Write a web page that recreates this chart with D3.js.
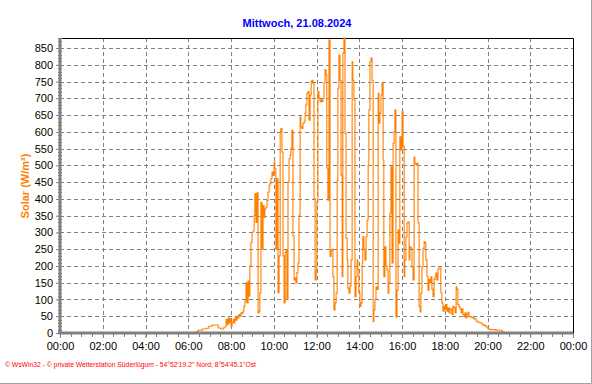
<!DOCTYPE html>
<html>
<head>
<meta charset="utf-8">
<script src="https://cdn.jsdelivr.net/npm/d3@7"></script>
<style>
  body { margin: 0; background: #fff; }
  svg { display: block; font-family: "Liberation Sans", Arial, sans-serif; }
</style>
</head>
<body>
<div id="chart"></div>
<script>
const title = "Mittwoch, 21.08.2024"
const yLabel = "Solar (W/m²)"
const footer = "© WsWin32  -  © private Wetterstation Süderlügum  -  54°52'19.2\" Nord; 8°54'45.1\"Ost"
const xTickLabels = ["00:00","02:00","04:00","06:00","08:00","10:00","12:00","14:00","16:00","18:00","20:00","22:00","00:00"]
const yTicks = [0,50,100,150,200,250,300,350,400,450,500,550,600,650,700,750,800,850]

// time of reading (HH:MM) and solar radiation in W/m²
const times = [
  "00:00","06:15","06:19","06:27","06:39","06:50","06:58","07:07","07:15","07:24","07:32","07:40",
  "07:46","07:49","07:52","07:54","07:57","08:00","08:03","08:06","08:08","08:11","08:14","08:17",
  "08:20","08:22","08:25","08:28","08:31","08:34","08:36","08:39","08:42","08:45","08:48","08:50",
  "08:53","08:56","08:59","09:02","09:05","09:07","09:10","09:13","09:16","09:19","09:21","09:24",
  "09:27","09:30","09:33","09:35","09:38","09:41","09:44","09:47","09:49","09:52","09:55","09:58",
  "10:01","10:03","10:06","10:09","10:12","10:15","10:18","10:20","10:23","10:26","10:29","10:32",
  "10:34","10:37","10:40","10:43","10:46","10:48","10:51","10:54","10:57","11:00","11:02","11:05",
  "11:08","11:11","11:14","11:16","11:19","11:22","11:25","11:28","11:30","11:33","11:36","11:39",
  "11:42","11:45","11:47","11:50","11:53","11:56","11:59","12:01","12:04","12:07","12:10","12:13",
  "12:15","12:18","12:21","12:24","12:27","12:29","12:32","12:35","12:38","12:41","12:43","12:46",
  "12:49","12:52","12:55","12:58","13:00","13:03","13:06","13:09","13:12","13:14","13:17","13:20",
  "13:23","13:26","13:28","13:31","13:34","13:37","13:40","13:42","13:45","13:48","13:51","13:54",
  "13:56","13:59","14:02","14:05","14:08","14:10","14:13","14:16","14:19","14:22","14:25","14:27",
  "14:30","14:33","14:36","14:39","14:41","14:44","14:47","14:50","14:53","14:55","14:58","15:01",
  "15:04","15:07","15:09","15:12","15:15","15:18","15:21","15:23","15:26","15:29","15:32","15:35",
  "15:38","15:40","15:43","15:46","15:49","15:52","15:54","15:57","16:00","16:03","16:06","16:08",
  "16:11","16:14","16:17","16:20","16:22","16:25","16:28","16:31","16:34","16:36","16:39","16:42",
  "16:45","16:48","16:51","16:53","16:56","16:59","17:02","17:05","17:07","17:10","17:13","17:16",
  "17:19","17:21","17:24","17:27","17:30","17:33","17:35","17:38","17:41","17:44","17:47","17:49",
  "17:52","17:55","17:58","18:01","18:03","18:06","18:09","18:12","18:15","18:20","18:23","18:26",
  "18:29","18:32","18:34","18:37","18:40","18:43","18:46","18:48","18:51","18:54","18:57","19:00",
  "19:02","19:05","19:08","19:11","19:16","19:22","19:28","19:33","19:39","19:45","19:50","19:56",
  "20:01","20:07","20:13","20:24","20:35","20:41","20:44","24:00"
]
const solar = [
  0,0,3,8,12,14,20,24,24,15,12,18,
  40,25,45,30,42,20,30,40,30,45,38,50,
  45,55,50,60,58,65,80,95,150,90,155,110,
  200,270,300,305,350,415,330,418,60,65,120,390,
  250,380,345,370,375,395,420,440,445,460,480,470,
  510,490,250,460,120,230,600,610,540,230,90,240,
  245,100,450,520,530,551,605,290,158,165,149,180,
  209,352,645,615,610,625,630,656,680,715,720,635,
  710,750,754,745,400,158,188,392,720,700,690,695,
  690,700,745,785,770,492,396,874,228,247,250,168,
  69,90,119,456,730,829,754,471,168,835,880,596,
  283,218,134,119,140,218,809,754,695,108,168,218,
  190,119,79,90,209,287,250,218,287,337,500,665,
  809,820,754,34,69,100,138,130,715,626,656,710,
  745,516,168,257,200,188,119,150,357,496,209,566,
  600,665,48,128,307,268,585,546,660,556,168,218,
  287,328,331,218,257,253,197,158,525,506,501,506,
  328,79,63,119,197,253,272,268,218,168,128,160,
  150,168,130,108,160,168,179,158,190,198,198,120,
  89,65,80,70,85,65,75,60,72,55,80,75,
  60,138,130,85,78,70,60,72,55,48,60,45,
  55,62,50,48,45,42,35,32,30,25,22,18,
  12,10,10,8,8,4,0,0
]

const width = 592, height = 384
const margin = { top: 38, right: 19, bottom: 51, left: 60 }
const iw = width - margin.left - margin.right
const ih = height - margin.top - margin.bottom

const toMin = t => { const [h, m] = t.split(":").map(Number); return h * 60 + m }
const data = times.map((t, i) => ({ t: toMin(t), v: solar[i] }))

const x = d3.scaleLinear().domain([0, 1440]).range([0, iw])
const y = d3.scaleLinear().domain([0, 880]).range([ih, 0])

const svg = d3.select("#chart").append("svg")
    .attr("width", width)
    .attr("height", height)

// outer frame (right/bottom edge)
svg.append("path")
    .attr("d", `M${width - 0.5},0V${height - 0.5}H0`)
    .attr("fill", "none")
    .attr("stroke", "#a0a0a0")

svg.append("text")
    .attr("x", 297).attr("y", 27)
    .attr("text-anchor", "middle")
    .attr("fill", "#0000ff")
    .attr("font-weight", "bold")
    .attr("font-size", 11)
    .text(title)

const g = svg.append("g").attr("transform", `translate(${margin.left},${margin.top})`)

// grid
const xMajor = d3.range(0, 1441, 120)
g.append("g").selectAll("line").data(xMajor.slice(1, -1)).join("line")
    .attr("x1", d => Math.round(x(d)) + 0.5).attr("x2", d => Math.round(x(d)) + 0.5)
    .attr("y1", 0).attr("y2", ih)
    .attr("stroke", "#808080").attr("stroke-dasharray", "4,3")
g.append("g").selectAll("line").data(yTicks.slice(1)).join("line")
    .attr("x1", 0).attr("x2", iw)
    .attr("y1", d => Math.round(y(d)) + 0.5).attr("y2", d => Math.round(y(d)) + 0.5)
    .attr("stroke", "#808080").attr("stroke-dasharray", "4,3")

// top and right border
g.append("path")
    .attr("d", `M0,0.5H${iw + 0.5}V${ih}`)
    .attr("fill", "none").attr("stroke", "#000")

// data line
const line = d3.line()
    .x(d => x(d.t))
    .y(d => y(d.v))
    .curve(d3.curveStepAfter)

g.append("path")
    .datum(data)
    .attr("fill", "none")
    .attr("stroke", "#ff8000")
    .attr("stroke-width", 1.1)
    .attr("d", line)

// y axis
const yAxis = g.append("g")
    .call(d3.axisLeft(y).tickValues(yTicks).tickSize(4).tickPadding(3).tickFormat(d3.format("d")))
yAxis.select(".domain").remove()
yAxis.selectAll("text").attr("font-size", 11).attr("font-family", "Liberation Sans, Arial, sans-serif").attr("fill", "#000")
yAxis.selectAll("line").attr("stroke", "#808080")
g.append("g").selectAll("line").data(d3.range(0, 881, 10)).join("line")
    .attr("x1", -2).attr("x2", 2)
    .attr("y1", d => Math.round(y(d)) + 0.5).attr("y2", d => Math.round(y(d)) + 0.5)
    .attr("stroke", "#808080")
g.append("line")
    .attr("x1", 0).attr("x2", 0).attr("y1", 0).attr("y2", ih + 1)
    .attr("stroke", "#808080").attr("stroke-width", 3)

// x axis
const xAxis = g.append("g")
    .attr("transform", `translate(0,${ih})`)
    .call(d3.axisBottom(x).tickValues(xMajor).tickSize(5).tickPadding(4).tickFormat((d, i) => xTickLabels[i]))
xAxis.select(".domain").remove()
xAxis.selectAll("text").attr("font-size", 11).attr("font-family", "Liberation Sans, Arial, sans-serif").attr("fill", "#000")
xAxis.selectAll("line").attr("stroke", "#808080")
g.append("g").selectAll("line").data(d3.range(0, 1441, 30)).join("line")
    .attr("x1", d => Math.round(x(d)) + 0.5).attr("x2", d => Math.round(x(d)) + 0.5)
    .attr("y1", ih).attr("y2", ih + 4)
    .attr("stroke", "#808080")
g.append("line")
    .attr("x1", -1.5).attr("x2", iw).attr("y1", ih).attr("y2", ih)
    .attr("stroke", "#808080").attr("stroke-width", 3)

// y label
svg.append("text")
    .attr("transform", `translate(29,186) rotate(-90)`)
    .attr("text-anchor", "middle")
    .attr("fill", "#ff8000")
    .attr("font-weight", "bold")
    .attr("font-size", 11)
    .text(yLabel)

// footer
svg.append("text")
    .attr("x", 5).attr("y", 367)
    .attr("fill", "#ff0000")
    .attr("font-size", 7)
    .attr("textLength", 251)
    .attr("lengthAdjust", "spacingAndGlyphs")
    .text(footer)
</script>
</body>
</html>
